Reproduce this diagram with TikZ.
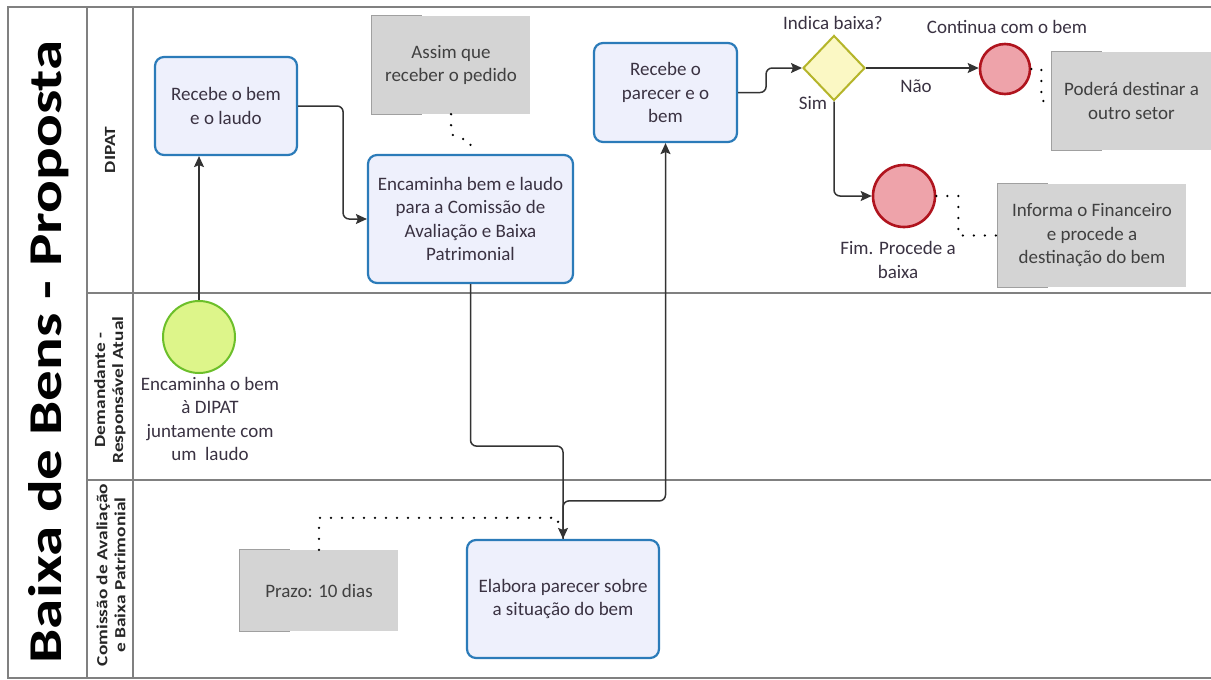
\documentclass[tikz,border=0pt]{standalone}
\usepackage{fontspec}
\setmainfont{Carlito}
\newfontfamily\lanefont[FakeStretch=1.25]{Carlito}
\newfontfamily\titlefont[FakeStretch=1.3]{Carlito}
\usetikzlibrary{arrows.meta,calc,shapes.geometric}

\definecolor{taskblue}{HTML}{2B7BB9}
\definecolor{taskfill}{HTML}{EEF0FC}
\definecolor{notegray}{HTML}{D4D4D4}
\definecolor{notebar}{HTML}{A0A0A0}
\definecolor{txt}{HTML}{3A3242}
\definecolor{framegray}{HTML}{808080}
\definecolor{endred}{HTML}{B0141E}
\definecolor{endfill}{HTML}{EEA3AA}
\definecolor{startgreen}{HTML}{6CBF2A}
\definecolor{startfill}{HTML}{DDF58A}
\definecolor{gwline}{HTML}{B5B52A}
\definecolor{gwfill}{HTML}{FBF8C4}
\definecolor{flowgray}{HTML}{333333}

\tikzset{
  bodytext/.style={font=\fontsize{19}{23.5}\selectfont, text=txt, align=center},
  task/.style={bodytext, draw=taskblue, line width=2.2pt, fill=taskfill,
    rounded corners=9pt, inner sep=2pt},
  note/.style={bodytext, fill=notegray, draw=none, inner sep=2pt, text=black!75},
  endev/.style={circle, draw=endred, line width=2.6pt, fill=endfill, inner sep=0pt},
  startev/.style={circle, draw=startgreen, line width=2pt, fill=startfill, inner sep=0pt},
  gateway/.style={diamond, draw=gwline, line width=2pt, fill=gwfill, inner sep=0pt,
    minimum width=62pt, minimum height=65pt},
  flow/.style={draw=flowgray, line width=1.5pt, rounded corners=6pt,
    -{Stealth[length=11pt,width=10pt,inset=2pt]}},
  assoc/.style={draw=black, line width=2.6pt, line cap=round,
    dash pattern=on 0pt off 11pt},
  frameline/.style={draw=framegray, line width=1.8pt},
  lanelabel/.style={font=\lanefont\bfseries\fontsize{15.5}{18}\selectfont,
    text=black!85, align=center, rotate=90},
  caption/.style={bodytext, inner sep=0pt},
  bracketline/.style={draw=notebar, line width=1.2pt}
}

\begin{document}
\begin{tikzpicture}[x=1pt, y=-1pt]
\useasboundingbox (0,0) rectangle (1211,680);
\fill[white] (0,0) rectangle (1211,680);

% pool frame and lanes
\draw[frameline] (1211,7) -- (8,7) -- (8,678) -- (1211,678);
\draw[frameline] (87,7) -- (87,678);
\draw[frameline] (133,7) -- (133,678);
\draw[frameline] (87,293) -- (1211,293);
\draw[frameline] (87,480) -- (1211,480);

% pool title and lane names
\node[rotate=90, anchor=base, font=\titlefont\bfseries\fontsize{47}{56}\selectfont, text=black, inner sep=0pt] (title) at (61,352) {Baixa de Bens - Proposta};
\node[lanelabel] (laneA) at (110,150) {DIPAT};
\node[lanelabel] (laneB) at (110,390) {Demandante -\\Responsável Atual};
\node[lanelabel] (laneC) at (111,575) {Comissão de Avaliação\\e Baixa Patrimonial};

% activities
\node[task, minimum width=142pt, minimum height=98pt] (rec1) at (226,106) {Recebe o bem\\e o laudo};
\node[task, minimum width=205pt, minimum height=128pt] (enc) at (470.5,219)
  {Encaminha bem e laudo\\para a Comissão de\\Avaliação e Baixa\\Patrimonial};
\node[task, minimum width=143pt, minimum height=99pt] (rec2) at (665.5,92.5) {Recebe o\\parecer e o\\bem};
\node[task, minimum width=192pt, minimum height=118pt] (elab) at (563,599) {Elabora parecer sobre\\a situação do bem};

% annotations
\node[note, minimum width=158pt, minimum height=98pt] (note1) at (451,65) {Assim que\\receber o pedido};
\node[note, minimum width=159pt, minimum height=98pt] (note2) at (1131.5,101) {Poderá destinar a\\outro setor};
\node[note, minimum width=188pt, minimum height=103pt] (note3) at (1092,235.5) {Informa o Financeiro\\e procede a\\destinação do bem};
\node[note, minimum width=158pt, minimum height=81pt] (note4) at (319,590.5) {Prazo: 10 dias};
\foreach \n in {note1,note2,note3,note4}{
  \draw[bracketline] ([xshift=50pt]\n.north west) -- (\n.north west) -- (\n.south west) -- ([xshift=50pt]\n.south west);
}

% events and gateway
\node[startev, minimum size=72pt] (start) at (199,337) {};
\node[gateway] (gw) at (834,68) {};
\node[endev, minimum size=50pt] (end1) at (1005,69) {};
\node[endev, minimum size=62pt] (end2) at (904,196) {};

% event and gateway captions
\node[caption] (startlbl) at (210,419) {Encaminha o bem\\à DIPAT\\juntamente com\\um\ \ laudo};
\node[caption] (gwlbl) at (833,23) {Indica baixa?};
\node[caption] (end1lbl) at (1007,27) {Continua com o bem};
\node[caption] (end2lbl) at (898,260) {Fim. Procede a\\baixa};
\node[caption] (naolbl) at (916,86) {Não};
\node[caption] (simlbl) at (813,103) {Sim};

% sequence flows
\draw[flow] (start.north) -- (start.north |- rec1.south);
\draw[flow] (rec1.east) -- ++(45,0) |- (enc.west);
\draw[flow] (enc.south) -- ++(0,162) -| (elab.north);
\draw[flow] (elab.north) -- ++(0,-38) -| (rec2.south);
\draw[flow] (rec2.east) -- ++(28,0) |- (gw.west);
\draw[flow] (gw.east) -- (end1.west |- gw.east);
\draw[flow] (gw.south) |- (end2.west);

% associations
\coordinate (prazoend) at ($(elab.north)+(-5,-17)$);
\draw[assoc] (note1.south) -- ++(0,20) -- ($(enc.north)+(0,-12)$) -- (enc.north);
\draw[assoc] (note4.north) -- ++(0,-32) -| (prazoend);
\draw[assoc] (end1.east) -- ++(10,0) |- (note2.west);
\draw[assoc] (end2.east) -- ++(22,0) |- (note3.west);
\end{tikzpicture}
\end{document}
